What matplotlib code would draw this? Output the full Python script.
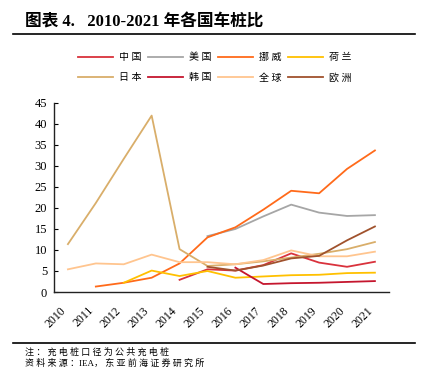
import matplotlib.pyplot as plt
from matplotlib.lines import Line2D

plt.rcParams['font.family'] = ['Liberation Serif', 'Noto Sans CJK SC']

# Data
years = ['2010', '2011', '2012', '2013', '2014', '2015', '2016', '2017', '2018', '2019', '2020', '2021']
china = [None, None, None, None, 2.9, 5.4, 5.1, 6.4, 9.2, 7.0, 6.0, 7.2]
usa = [None, None, None, None, None, 13.3, 15.0, 18.0, 20.8, 18.9, 18.1, 18.3]
norway = [None, 1.3, 2.2, 3.4, 6.8, 13.0, 15.4, 19.6, 24.1, 23.5, 29.3, 33.7]
netherlands = [None, None, 2.2, 5.1, 3.8, 5.0, 3.4, 3.7, 4.0, 4.1, 4.5, 4.6]
japan = [11.4, 21.2, 31.7, 42.0, 10.2, 6.2, 6.6, 7.3, 8.2, 9.1, 10.2, 11.9]
korea = [None, None, None, None, None, None, 5.8, 1.9, 2.1, 2.2, 2.4, 2.6]
world = [5.4, 6.8, 6.6, 8.9, 7.1, 7.1, 6.6, 7.6, 9.9, 8.5, 8.5, 9.6]
europe = [None, None, None, None, None, 6.0, 5.1, 6.3, 8.0, 8.6, 12.3, 15.6]

names = ['中国', '美国', '挪威', '荷兰', '日本', '韩国', '全球', '欧洲']
series = [china, usa, norway, netherlands, japan, korea, world, europe]
colors = ['#D9323C', '#A6A6A6', '#FF6A1A', '#FFC000', '#D9AE6A', '#C5162E', '#FFC58F', '#A0522D']

fig = plt.figure(figsize=(4.25, 3.76), dpi=100)
ax = fig.add_axes([0.127, 0.2234, 0.788, 0.5027])

x = list(range(len(years)))
lines = []
for name, vals, c in zip(names, series, colors):
    xs = [i for i, v in zip(x, vals) if v is not None]
    ys = [v for v in vals if v is not None]
    ln, = ax.plot(xs, ys, color=c, lw=1.3, label=' '.join(name))
    lines.append(ln)

ax.set_xlim(-0.5, 11.5)
ax.set_ylim(0, 45)
ax.set_yticks(range(0, 50, 5))
ax.set_xticks(x)
ax.set_xticklabels(years, rotation=45, ha='right', fontsize=8.5)
ax.tick_params(axis='y', direction='in', length=3, labelsize=9, pad=5)
ax.tick_params(axis='x', length=0, pad=9)
for s in ['top', 'right']:
    ax.spines[s].set_visible(False)
for s in ['left', 'bottom']:
    ax.spines[s].set_linewidth(1.0)
    ax.spines[s].set_color('#222222')

# legend filled row by row (4 columns, 2 rows)
order = [0, 4, 1, 5, 2, 6, 3, 7]
handles = [lines[i] for i in order]
fig.legend(handles, [h.get_label() for h in handles], loc='center',
           bbox_to_anchor=(0.506, 0.82), ncol=4, frameon=False,
           fontsize=7.2, handlelength=3.5, handletextpad=0.6, columnspacing=0.65,
           labelspacing=1.1)

# Title and rules
fig.text(25 / 425, 1 - 22 / 376, '图表 4.   2010-2021 年各国车桩比', fontsize=12,
         fontweight='bold', va='center', ha='left')
fig.add_artist(Line2D([13 / 425, 415 / 425], [1 - 33.5 / 376] * 2, color='black', lw=1.2))
fig.add_artist(Line2D([13 / 425, 415 / 425], [1 - 343 / 376] * 2, color='black', lw=1.2))
fig.text(25 / 425, 1 - 352.5 / 376, ' '.join('注：充电桩口径为公共充电桩'), fontsize=6.5,
         va='center', ha='left')
fig.text(25 / 425, 1 - 363 / 376, ' '.join('资料来源：') + 'IEA， ' + ' '.join('东亚前海证券研究所'),
         fontsize=6.5, va='center', ha='left')

fig.savefig('out.png', dpi=100)
